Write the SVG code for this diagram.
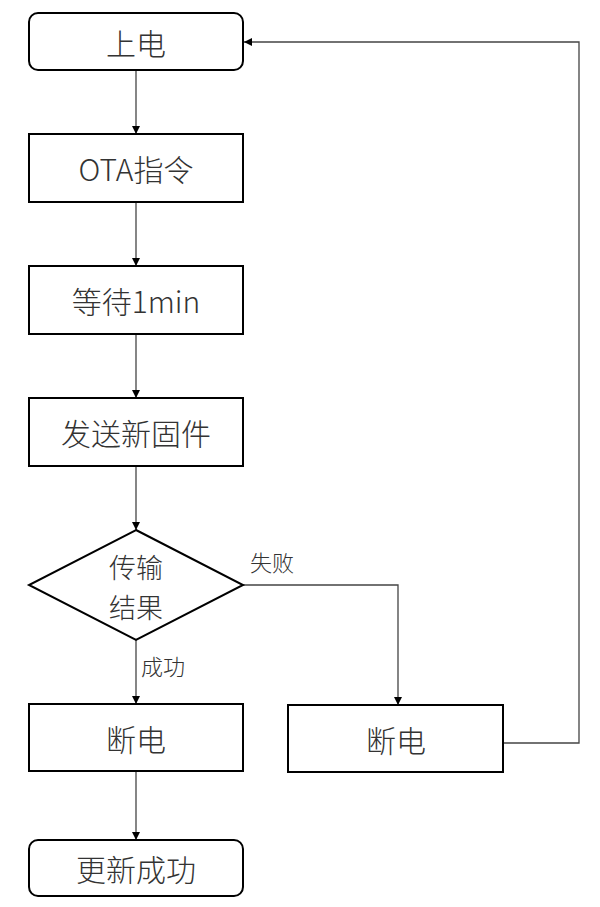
<svg xmlns="http://www.w3.org/2000/svg" width="600" height="907" viewBox="0 0 600 907">
<defs>
<marker id="ah" viewBox="0 0 10 10" refX="10" refY="5" markerWidth="8" markerHeight="8" markerUnits="userSpaceOnUse" orient="auto"><path d="M0,0 L10,5 L0,10 z" fill="#000"/></marker>
<style>
.box{fill:#fff;stroke:#000;stroke-width:2}
.t{font-family:"Noto Sans CJK SC","Liberation Sans",sans-serif;font-size:30px;font-weight:300;fill:#333;text-anchor:middle;dominant-baseline:central}
.d{font-size:27px}
.l{font-family:"Noto Sans CJK SC","Liberation Sans",sans-serif;font-size:22px;font-weight:300;fill:#333}
.c{fill:none;stroke:#444;stroke-width:1.3}
</style>
</defs>
<rect width="600" height="907" fill="#fff"/>
<g id="connectors">
<line class="c" x1="136" y1="70" x2="136" y2="134" marker-end="url(#ah)"/>
<line class="c" x1="136" y1="202" x2="136" y2="266" marker-end="url(#ah)"/>
<line class="c" x1="136" y1="334" x2="136" y2="398" marker-end="url(#ah)"/>
<line class="c" x1="136" y1="466" x2="136" y2="530" marker-end="url(#ah)"/>
<line class="c" x1="136" y1="640" x2="136" y2="704" marker-end="url(#ah)"/>
<polyline class="c" points="243,585 398,585 398,705" marker-end="url(#ah)"/>
<line class="c" x1="136" y1="771" x2="136" y2="840" marker-end="url(#ah)"/>
<polyline class="c" points="503,743 579,743 579,42 244,42" marker-end="url(#ah)"/>
<text class="l" x="250" y="571">失败</text>
<text class="l" x="141" y="675">成功</text>
</g>
<g id="n1"><rect class="box" x="29" y="13" width="214" height="57" rx="9"/><text class="t" x="136" y="42">上电</text></g>
<g id="n2"><rect class="box" x="29" y="134" width="214" height="68"/><text class="t" x="136" y="168">OTA指令</text></g>
<g id="n3"><rect class="box" x="29" y="266" width="214" height="68"/><text class="t" x="136" y="300">等待1min</text></g>
<g id="n4"><rect class="box" x="29" y="398" width="214" height="68"/><text class="t" x="136" y="432">发送新固件</text></g>
<g id="n5"><polygon class="box" points="136,530 243,585 136,640 29,585"/><text class="t d" x="136" y="566">传输</text><text class="t d" x="136" y="606">结果</text></g>
<g id="n6"><rect class="box" x="29" y="704" width="214" height="67"/><text class="t" x="136" y="738">断电</text></g>
<g id="n7"><rect class="box" x="288" y="705" width="215" height="67"/><text class="t" x="396" y="739">断电</text></g>
<g id="n8"><rect class="box" x="29" y="840" width="214" height="56" rx="9"/><text class="t" x="136" y="868">更新成功</text></g>
</svg>
